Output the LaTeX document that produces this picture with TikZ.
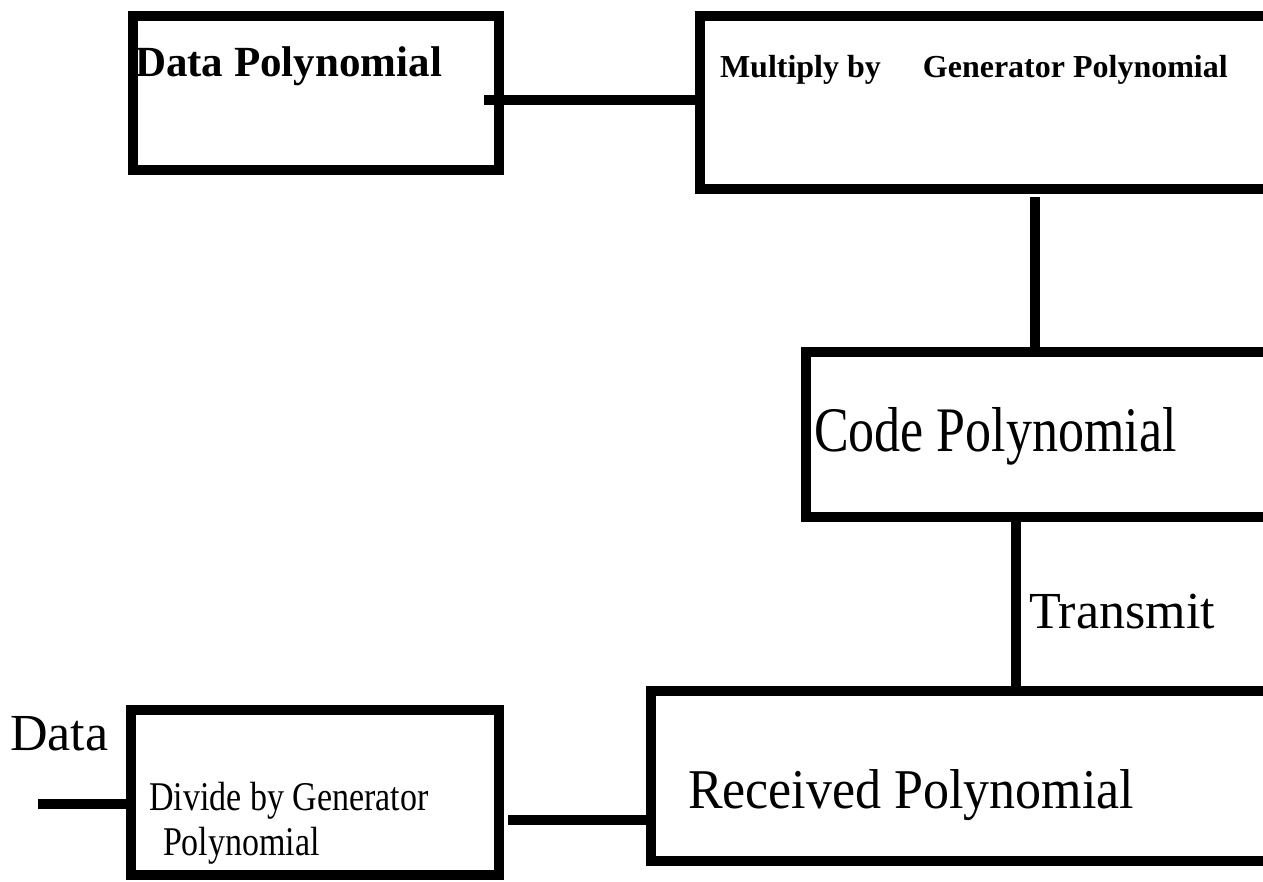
\documentclass[tikz,border=0pt]{standalone}
\usepackage{fontspec}
\usepackage{graphicx}
\setmainfont{Liberation Serif}
\begin{document}
\begin{tikzpicture}[x=1pt,y=-1pt,
  block/.style={draw, line width=10.5pt, rectangle, inner sep=0pt, outer sep=0pt, anchor=north west},
  wire/.style={line width=10.5pt, line cap=butt},
  txt/.style={anchor=base west, inner sep=0pt, outer sep=0pt}]
\useasboundingbox (0,0) rectangle (1263,882);
\clip (0,0) rectangle (1263,882);
\fill[white] (0,0) rectangle (1263,882);

% blocks (path runs along the middle of each border)
\node[block, minimum width=366pt, minimum height=154pt] (dp) at (133,16) {};
\node[block, minimum width=600pt, minimum height=173pt] (mul) at (700,16) {};
\node[block, minimum width=500pt, minimum height=165pt] (cp) at (806,352) {};
\node[block, minimum width=650pt, minimum height=170pt] (rp) at (651,691) {};
\node[block, minimum width=368pt, minimum height=165pt] (div) at (131,710) {};

% texts
\node[txt, font=\fontsize{43}{50}\selectfont\bfseries] (tdp) at (135,77) {Data Polynomial};
\node[txt, font=\fontsize{32}{38}\selectfont\bfseries] (tmul) at (720,78) {Multiply by\hspace{42pt}Generator Polynomial};
\node[txt, font=\fontsize{52}{60}\selectfont] (tcp) at (814,451) {\scalebox{1}[1.22]{Code Polynomial}};
\node[txt, font=\fontsize{52}{60}\selectfont] (ttx) at (1029,628) {Transmit};
\node[txt, font=\fontsize{52}{60}\selectfont] (trp) at (688,808) {\scalebox{1}[1.08]{Received Polynomial}};
\node[txt, font=\fontsize{52}{60}\selectfont] (tdata) at (10,750) {Data};
\node[txt, font=\fontsize{34}{40}\selectfont] (tdiv1) at (149,810) {\scalebox{1}[1.2]{Divide by Generator}};
\node[txt, font=\fontsize{34}{40}\selectfont] (tdiv2) at (163,855) {\scalebox{1}[1.2]{Polynomial}};

% connectors
\coordinate (ab) at (484,100);
\draw[wire] (ab) -- (ab -| mul.west);
\coordinate (bc) at (1035,197);
\draw[wire] (bc) -- (bc |- cp.north);
\coordinate (cd) at (1016,0);
\draw[wire] (cp.south -| cd) -- (rp.north -| cd);
\coordinate (de) at (508,820);
\draw[wire] (de) -- (de -| rp.west);
\coordinate (in) at (38,804);
\draw[wire] (in) -- (in -| div.west);
\end{tikzpicture}
\end{document}
